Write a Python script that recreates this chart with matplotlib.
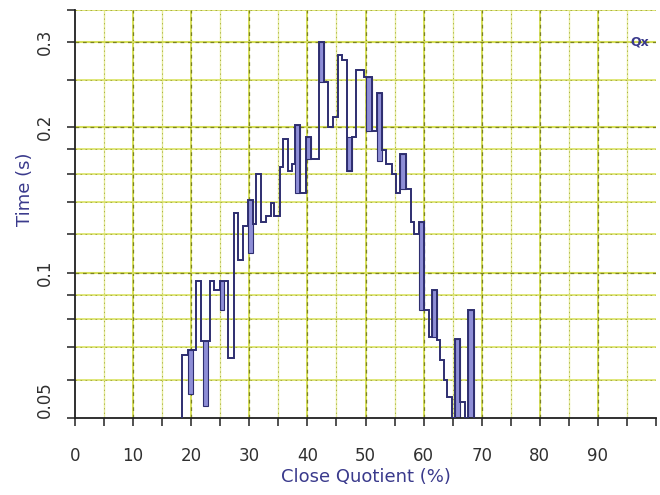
import numpy as np
import matplotlib
matplotlib.use("Agg")
import matplotlib.pyplot as plt
from matplotlib.ticker import NullFormatter, FixedLocator

# step outline of the close-quotient histogram (bin edges in %, time in s)
edges = [18.4, 19.4, 20.9, 21.7, 23.2, 24.0, 24.9, 26.3, 27.3, 28.0,
         28.9, 29.7, 30.6, 31.2, 32.1, 32.9, 33.7, 34.3, 35.2, 35.8,
         36.6, 37.3, 37.9, 38.7, 39.7, 40.6, 42.0, 42.9, 43.6, 44.4,
         45.2, 46.0, 46.9, 47.7, 48.3, 49.7, 51.1, 52.0, 52.9, 53.5,
         54.6, 55.2, 56.0, 56.9, 57.8, 58.3, 59.2, 60.0, 60.9, 61.5,
         62.3, 62.9, 63.5, 64.0, 64.9, 65.4, 66.2, 67.2, 67.6, 68.6]
times = [0.0675, 0.069, 0.096, 0.072, 0.096, 0.092, 0.096, 0.0664, 0.133,
         0.106, 0.125, 0.141, 0.126, 0.160, 0.127, 0.131, 0.139, 0.131,
         0.165, 0.189, 0.162, 0.168, 0.202, 0.146, 0.191, 0.172, 0.300,
         0.248, 0.200, 0.210, 0.282, 0.275, 0.162, 0.191, 0.262, 0.254,
         0.196, 0.235, 0.179, 0.168, 0.160, 0.146, 0.176, 0.149, 0.127,
         0.120, 0.127, 0.0836, 0.0736, 0.092, 0.0724, 0.0659, 0.0599,
         0.0553, 0.05, 0.073, 0.054, 0.05, 0.0836]

# shaded spikes (start, end, low, high)
spike_x0 = [19.4, 22.0, 24.9, 29.7, 37.9, 39.7, 42.0, 46.9, 50.1, 52.0, 56.0, 59.2, 61.5, 65.4, 67.6]
spike_x1 = [20.3, 22.9, 25.7, 30.6, 38.7, 40.6, 42.9, 47.7, 51.1, 52.9, 56.9, 60.0, 62.3, 66.2, 68.6]
spike_lo = [0.056, 0.053, 0.0836, 0.110, 0.146, 0.172, 0.248, 0.162, 0.196, 0.170, 0.149, 0.0836, 0.0736, 0.05, 0.05]
spike_hi = [0.069, 0.072, 0.096, 0.141, 0.202, 0.191, 0.300, 0.191, 0.254, 0.235, 0.176, 0.127, 0.092, 0.073, 0.0836]

xmajor = list(range(0, 101, 10))
xminor = list(range(5, 100, 10))
ymajor = [0.05, 0.1, 0.2, 0.3]
yminor = [0.06, 0.07, 0.08, 0.09, 0.12, 0.14, 0.16, 0.18, 0.25, 0.35]

navy = "#2e2e70"
lav = "#8e8ed6"
label_col = "#3a3a8c"

fig = plt.figure(figsize=(6.6, 4.95), dpi=100)
ax = fig.add_axes([0.1136, 0.1556, 0.8804, 0.825])
ax.set_yscale("log")
ax.set_xlim(0, 100)
ax.set_ylim(0.05, 0.35)

# grid, drawn by hand so major and minor get their own look
for x in xminor:
    ax.axvline(x, color="#e6ec9a", lw=1.0, zorder=0)
    ax.axvline(x, color="#a0a636", lw=0.6, dashes=(1.5, 4), zorder=0)
for y in yminor:
    ax.axhline(y, color="#dde570", lw=1.3, zorder=0)
    ax.axhline(y, color="#a0a636", lw=0.6, dashes=(2, 4), zorder=0)
for x in xmajor[1:-1]:
    ax.axvline(x, color="#d6df5a", lw=1.4, zorder=0)
    ax.axvline(x, color="#7c8220", lw=0.9, dashes=(3, 3), zorder=0)
for y in ymajor[1:]:
    ax.axhline(y, color="#d6df5a", lw=1.5, zorder=0)
    ax.axhline(y, color="#7c8220", lw=0.9, dashes=(3, 3), zorder=0)

ax.bar(spike_x0, np.array(spike_hi) - np.array(spike_lo), bottom=spike_lo,
       width=np.array(spike_x1) - np.array(spike_x0), align="edge",
       color=lav, edgecolor=navy, linewidth=0.8, zorder=2)

ax.stairs(times, edges, baseline=0.05, color=navy, linewidth=1.4, zorder=3)

# axes
for s in ["top", "right"]:
    ax.spines[s].set_visible(False)
for s in ["left", "bottom"]:
    ax.spines[s].set_color("#202020")
    ax.spines[s].set_linewidth(1.3)

ax.xaxis.set_major_locator(FixedLocator(xmajor))
ax.xaxis.set_minor_locator(FixedLocator(xminor))
ax.set_xticklabels([str(v) for v in xmajor[:-1]] + [""])
ax.yaxis.set_major_locator(FixedLocator(ymajor))
ax.yaxis.set_minor_locator(FixedLocator(yminor))
ax.yaxis.set_minor_formatter(NullFormatter())
ax.set_yticklabels(["0.05", "0.1", "0.2", "0.3"])
ax.tick_params(axis="both", which="both", direction="out", length=6, width=1.1,
               color="#202020", labelsize=12, labelcolor="#303030")
ax.tick_params(axis="x", which="major", pad=15)
ax.tick_params(axis="y", which="major", pad=9)
for lab in ax.get_yticklabels():
    lab.set_rotation(90)
    lab.set_va("center")
ax.get_yticklabels()[0].set_va("bottom")

ax.set_xlabel("Close Quotient (%)", color=label_col, fontsize=13, labelpad=2)
ax.set_ylabel("Time (s)", color=label_col, fontsize=13)
ax.yaxis.set_label_coords(-0.07, 0.56)

ax.text(0.972, 0.3, "Qx", transform=ax.get_yaxis_transform(), color=label_col,
        fontsize=9, fontweight="bold", ha="center", va="center")

fig.savefig("out.png", dpi=100)
